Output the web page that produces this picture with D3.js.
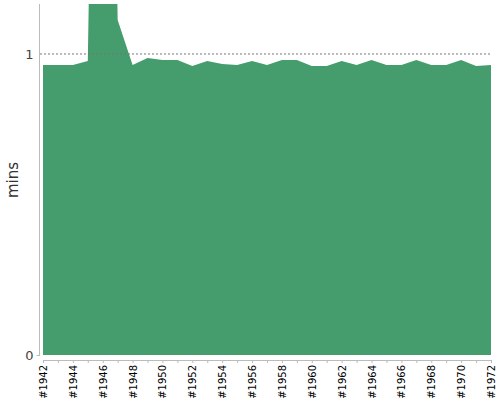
<!DOCTYPE html>
<html>
<head>
<meta charset="utf-8">
<script src="https://cdn.jsdelivr.net/npm/d3@7"></script>
<style>
  body { margin: 0; background: #fff; }
  svg { font-family: "DejaVu Sans", sans-serif; }
</style>
</head>
<body>
<svg width="500" height="400"></svg>
<script>
// data
var years = d3.range(1942, 1973);
var mins = [0.963, 0.963, 0.963, 0.977, 4.0, 1.113, 0.963, 0.987, 0.980, 0.980,
            0.960, 0.977, 0.967, 0.963, 0.977, 0.963, 0.980, 0.980, 0.960, 0.960,
            0.977, 0.963, 0.980, 0.963, 0.963, 0.980, 0.963, 0.963, 0.980, 0.960,
            0.963];
var yTicks = [0, 1];

var data = years.map(function(y, i) { return {year: y, value: mins[i]}; });

var svg = d3.select("svg"),
    margin = {top: 4, right: 9, bottom: 45, left: 43},
    width = 500 - margin.left - margin.right,
    height = 400 - margin.top - margin.bottom;

var x = d3.scaleLinear().domain([1942, 1972]).range([0, width]);
var y = d3.scaleLinear().domain([0, 1.166]).range([height - 0, 0]);

var g = svg.append("g")
    .attr("transform", "translate(" + margin.left + "," + margin.top + ")");

g.append("clipPath").attr("id", "clip")
  .append("rect").attr("x", 0).attr("y", 0).attr("width", width).attr("height", height);

var area = d3.area()
    .x(function(d) { return x(d.year); })
    .y0(y(0))
    .y1(function(d) { return y(d.value); });

g.append("path")
    .datum(data)
    .attr("clip-path", "url(#clip)")
    .attr("fill", "#459c6d")
    .attr("d", area);

// dotted line at 1
g.append("line")
    .attr("x1", -3).attr("x2", width)
    .attr("y1", y(1)).attr("y2", y(1))
    .attr("stroke", "#777")
    .attr("stroke-width", 1)
    .attr("stroke-dasharray", "2,2");

// y axis
var yAxis = g.append("g")
    .attr("transform", "translate(-3.5,0)")
    .call(d3.axisLeft(y).tickValues(yTicks).tickFormat(d3.format("d")).tickSize(3));
yAxis.select(".domain").attr("stroke", "#bbb").attr("d", "M0,0V" + (height + 1));
yAxis.selectAll(".tick line").attr("stroke", "#bbb");
yAxis.selectAll(".tick text").attr("font-size", 13).attr("fill", "#444")
    .attr("font-family", "DejaVu Sans, sans-serif");
yAxis.selectAll(".tick").filter(function(d) { return d === 1; }).select("line").remove();

// x axis: minor ticks every year, labels every 2
var xg = g.append("g").attr("transform", "translate(0," + (height + 5) + ")");
xg.call(d3.axisBottom(x).tickValues(years).tickSize(3).tickFormat(""));
xg.select(".domain").attr("stroke", "#bbb");
xg.selectAll(".tick line").attr("stroke", "#bbb");

var xl = g.append("g").attr("transform", "translate(0," + (height + 5) + ")");
xl.call(d3.axisBottom(x).tickValues(years.filter(function(d) { return d % 2 === 0; }))
    .tickSize(0).tickFormat(function(d) { return "#" + d; }));
xl.select(".domain").remove();
xl.selectAll(".tick text")
    .attr("font-size", 10)
    .attr("fill", "#000")
    .attr("font-family", "DejaVu Sans, sans-serif")
    .attr("text-anchor", "end")
    .attr("transform", "rotate(-90)")
    .attr("x", -5)
    .attr("y", 0)
    .attr("dy", "0.35em");

svg.append("text")
    .attr("transform", "translate(18," + 180 + ") rotate(-90)")
    .attr("text-anchor", "middle")
    .attr("font-size", 15)
    .attr("fill", "#333")
    .text("mins");
</script>
</body>
</html>
